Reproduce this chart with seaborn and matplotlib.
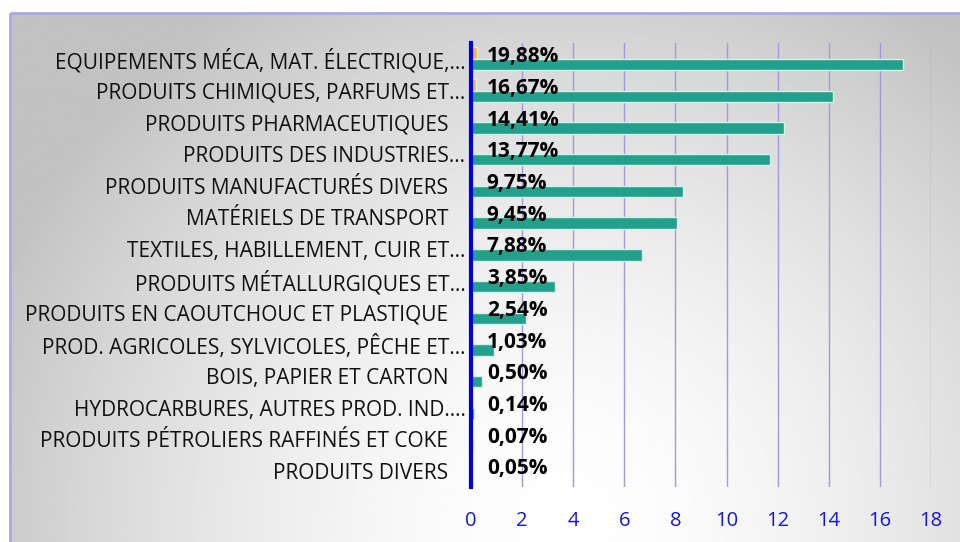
import numpy as np
import pandas as pd
import matplotlib
matplotlib.use("Agg")
import matplotlib.pyplot as plt
import matplotlib.transforms as mtransforms
import seaborn as sns
from matplotlib.patches import Rectangle

# data
categories = [
    "EQUIPEMENTS MÉCA, MAT. ÉLECTRIQUE,…",
    "PRODUITS CHIMIQUES, PARFUMS ET…",
    "PRODUITS PHARMACEUTIQUES",
    "PRODUITS DES INDUSTRIES…",
    "PRODUITS MANUFACTURÉS DIVERS",
    "MATÉRIELS DE TRANSPORT",
    "TEXTILES, HABILLEMENT, CUIR ET…",
    "PRODUITS MÉTALLURGIQUES ET…",
    "PRODUITS EN CAOUTCHOUC ET PLASTIQUE",
    "PROD. AGRICOLES, SYLVICOLES, PÊCHE ET…",
    "BOIS, PAPIER ET CARTON",
    "HYDROCARBURES, AUTRES PROD. IND.…",
    "PRODUITS PÉTROLIERS RAFFINÉS ET COKE",
    "PRODUITS DIVERS",
]
pct_labels = [19.88, 16.67, 14.41, 13.77, 9.75, 9.45, 7.88, 3.85, 2.54, 1.03, 0.50, 0.14, 0.07, 0.05]
main_values = [16.9, 14.15, 12.25, 11.7, 8.3, 8.05, 6.7, 3.3, 2.15, 0.9, 0.43, 0.12, 0.06, 0.04]
small_values = [0.22, 0.2, 0, 0, 0, 0, 0, 0, 0, 0, 0, 0, 0, 0]

df = pd.DataFrame({
    "cat": categories * 2,
    "serie": ["small"] * len(categories) + ["main"] * len(categories),
    "value": small_values + main_values,
})

sns.set_style("white")
plt.rcParams["font.family"] = ["Open Sans", "DejaVu Sans"]

fig = plt.figure(figsize=(9.6, 5.42), dpi=100)

# gradient background with light blue frame
bg = fig.add_axes([0, 0, 1, 1], zorder=-5)
yy, xx = np.mgrid[0:542, 0:960]
d = np.sqrt(((xx - 560) / 560.0) ** 2 + ((yy - 520) / 560.0) ** 2)
shade = np.clip(1.0 - 0.2 * d ** 1.6, 0.76, 1.0)
bg.imshow(shade, cmap="gray", vmin=0, vmax=1, extent=[10, 960, 542, 13], aspect="auto")
bg.add_patch(Rectangle((10, 13), 960, 540, fill=False, edgecolor="#a8a8f0", lw=2))
bg.set_xlim(0, 960)
bg.set_ylim(542, 0)
bg.axis("off")

ax = fig.add_axes([0.4906, 0.1015, 0.4792, 0.8192])
ax.patch.set_alpha(0)
sns.barplot(data=df, y="cat", x="value", hue="serie", orient="h", dodge=True,
            palette=["#f5b041", "#22a08c"], saturation=1, width=0.72, ax=ax,
            edgecolor="#d6f0ea", linewidth=1, legend=False)

# data labels
for i, p in enumerate(pct_labels):
    ax.text(0.62, i - 0.07, f"{p:.2f}%".replace(".", ","), va="center", ha="left",
            fontsize=15, fontweight="bold", color="black")

ax.set_xlim(0, 18)
ax.set_ylim(13.5, -0.5)
ax.set_xticks(range(0, 19, 2))
ax.set_xlabel("")
ax.set_ylabel("")
ax.grid(axis="x", color="#9c9cd8", lw=1)
ax.set_axisbelow(True)
for s in ["top", "right", "bottom"]:
    ax.spines[s].set_visible(False)
ax.spines["left"].set_color("#0000dd")
ax.spines["left"].set_linewidth(3)
ax.tick_params(axis="x", length=0, pad=17, labelsize=14.5, labelcolor="#1515dd")
ax.tick_params(axis="y", length=0, pad=4, labelsize=15, labelcolor="#111111")

# full labels sit a little further from the axis than truncated ones
shift = mtransforms.ScaledTranslation(-0.17, 0, fig.dpi_scale_trans)
for lbl in ax.get_yticklabels():
    if not lbl.get_text().endswith("…"):
        lbl.set_transform(lbl.get_transform() + shift)

fig.savefig("out.png", dpi=100)
